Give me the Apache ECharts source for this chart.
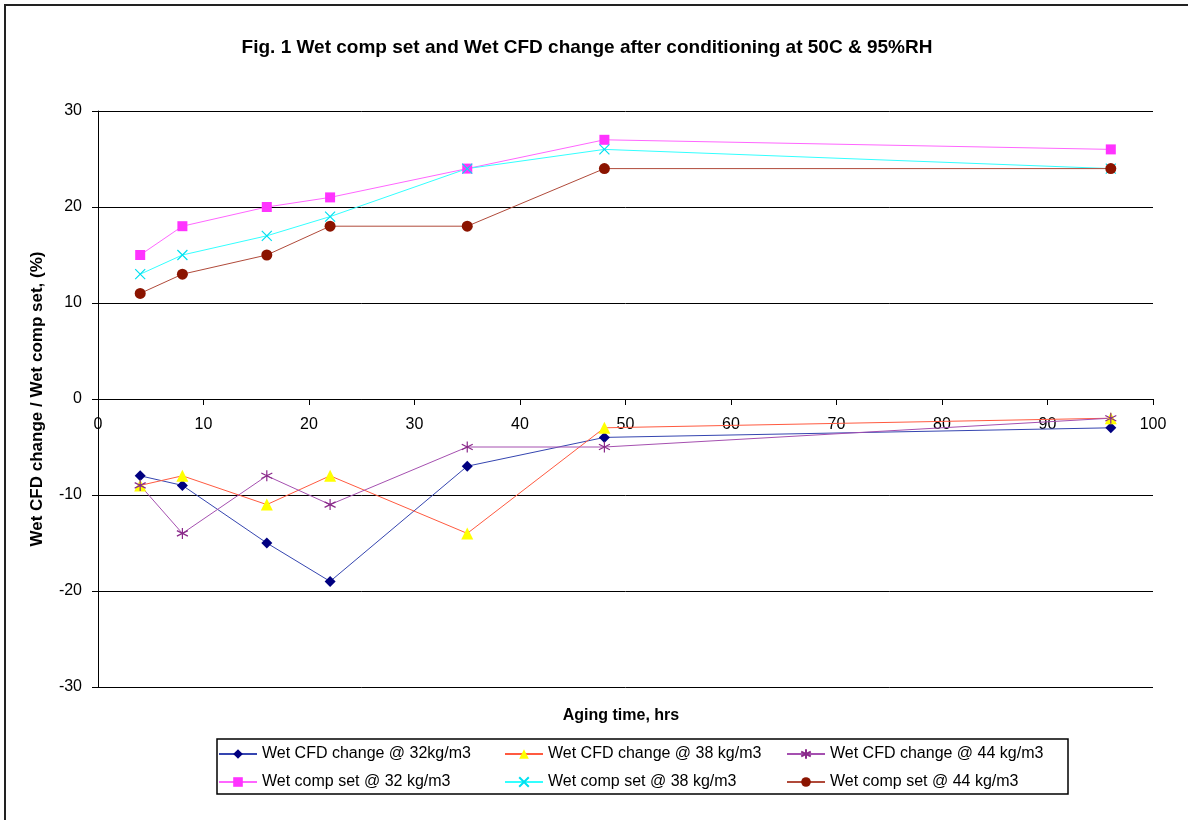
<!DOCTYPE html>
<html>
<head>
<meta charset="utf-8">
<script src="https://cdn.jsdelivr.net/npm/echarts@6/dist/echarts.min.js"></script>
<style>html,body{margin:0;padding:0;background:#fff;}#c{width:1188px;height:820px;}</style>
</head>
<body>
<div id="c"></div>
<script>
const hours = [4, 8, 16, 22, 35, 48, 96];
const cfd32 = [-8, -9, -15, -19, -7, -4, -3];
const cfd38 = [-9, -8, -11, -8, -14, -3, -2];
const cfd44 = [-9, -14, -8, -11, -5, -5, -2];
const comp32 = [15, 18, 20, 21, 24, 27, 26];
const comp38 = [13, 15, 17, 19, 24, 26, 24];
const comp44 = [11, 13, 15, 18, 18, 24, 24];
const seriesNames = [
  'Wet CFD change @ 32kg/m3', 'Wet CFD change @ 38 kg/m3', 'Wet CFD change @ 44 kg/m3',
  'Wet comp set @ 32 kg/m3', 'Wet comp set @ 38 kg/m3', 'Wet comp set @ 44 kg/m3'
];
const titleText = 'Fig. 1 Wet comp set and Wet CFD change after conditioning at 50C & 95%RH';
const xName = 'Aging time, hrs';
const yName = 'Wet CFD change / Wet comp set, (%)';

const pts = arr => hours.map((h, i) => [h, arr[i]]);
const FONT = 'Liberation Sans, Arial, sans-serif';

function mk(name, data, lineColor, markerColor, symbol, size, stroke) {
  return {
    name, type: 'line', data: pts(data), xAxisIndex: 0, yAxisIndex: 0,
    symbol, symbolSize: size, showSymbol: true,
    lineStyle: { color: lineColor, width: 1 },
    itemStyle: stroke
      ? { color: 'rgba(0,0,0,0)', borderColor: markerColor, borderWidth: 1.2 }
      : { color: markerColor, borderWidth: 0 },
    emphasis: { disabled: true },
    animation: false, z: 3
  };
}

const chart = echarts.init(document.getElementById('c'), null, { renderer: 'canvas' });
const legendBase = {
  orient: 'vertical', top: 741, itemWidth: 38, itemHeight: 12, itemGap: 12,
  textStyle: { fontFamily: FONT, fontSize: 16, color: '#000' }, selectedMode: false
};
chart.setOption({
  backgroundColor: '#fff',
  animation: false,
  title: {
    text: titleText, left: 582, top: 33, textAlign: 'center',
    textStyle: { fontFamily: FONT, fontSize: 19, fontWeight: 'bold', color: '#000' }
  },
  grid: [
    { left: 98, right: 35, top: 111, bottom: 133 },
    { left: 98, right: 35, top: 111, height: 288 }
  ],
  xAxis: [
    {
      gridIndex: 0, type: 'value', min: 0, max: 100, interval: 10,
      axisLine: { show: false }, axisTick: { show: false }, axisLabel: { show: false },
      splitLine: { show: false }
    },
    {
      gridIndex: 1, type: 'value', min: 0, max: 100, interval: 10, position: 'bottom',
      axisLine: { show: true, onZero: false, lineStyle: { color: '#000', width: 1 } },
      axisTick: { show: true, length: 6, lineStyle: { color: '#000' } },
      axisLabel: { fontFamily: FONT, fontSize: 16, color: '#000', margin: 18 },
      splitLine: { show: false }
    }
  ],
  yAxis: [
    {
      gridIndex: 0, type: 'value', min: -30, max: 30, interval: 10,
      name: yName, nameLocation: 'middle', nameGap: 52,
      nameTextStyle: { fontFamily: FONT, fontSize: 17, fontWeight: 'bold', color: '#000' },
      axisLine: { show: true, lineStyle: { color: '#000', width: 1 } },
      axisTick: { show: true, length: 6, lineStyle: { color: '#000' } },
      axisLabel: { fontFamily: FONT, fontSize: 16, color: '#000', margin: 16 },
      splitLine: { show: true, lineStyle: { color: '#000', width: 1 } }
    },
    {
      gridIndex: 1, type: 'value', min: 0, max: 30, show: false
    }
  ],
  legend: [
    Object.assign({ left: 213, data: [seriesNames[0], seriesNames[3]] }, legendBase),
    Object.assign({ left: 499, data: [seriesNames[1], seriesNames[4]] }, legendBase),
    Object.assign({ left: 781, data: [seriesNames[2], seriesNames[5]] }, legendBase)
  ],
  graphic: [
    { type: 'rect', shape: { x: 5, y: 5, width: 1250, height: 900 }, style: { fill: 'none', stroke: '#222', lineWidth: 2 }, silent: true },
    { type: 'rect', shape: { x: 217, y: 739, width: 851, height: 55 }, style: { fill: 'none', stroke: '#000', lineWidth: 1.5 }, silent: true },
    { type: 'text', x: 621, y: 708, style: { text: xName, fontFamily: FONT, fontSize: 16, fontWeight: 'bold', fill: '#000', textAlign: 'center' }, silent: true }
  ],
  series: [
    mk(seriesNames[0], cfd32, '#3545b0', '#000080', 'diamond', 11, false),
    mk(seriesNames[1], cfd38, '#ff5a40', '#ffff00', 'triangle', 12, false),
    mk(seriesNames[2], cfd44, '#a550b0', '#8a2a8a', 'path://M5,0L5,10M0.7,2.5L9.3,7.5M9.3,2.5L0.7,7.5', 11, true),
    mk(seriesNames[3], comp32, '#ff66ff', '#ff33ff', 'rect', 10, false),
    mk(seriesNames[4], comp38, '#33ffff', '#00e0f0', 'path://M0,0L10,10M10,0L0,10', 10, true),
    mk(seriesNames[5], comp44, '#b04a3a', '#8b1400', 'circle', 11, false)
  ]
});
</script>
</body>
</html>
